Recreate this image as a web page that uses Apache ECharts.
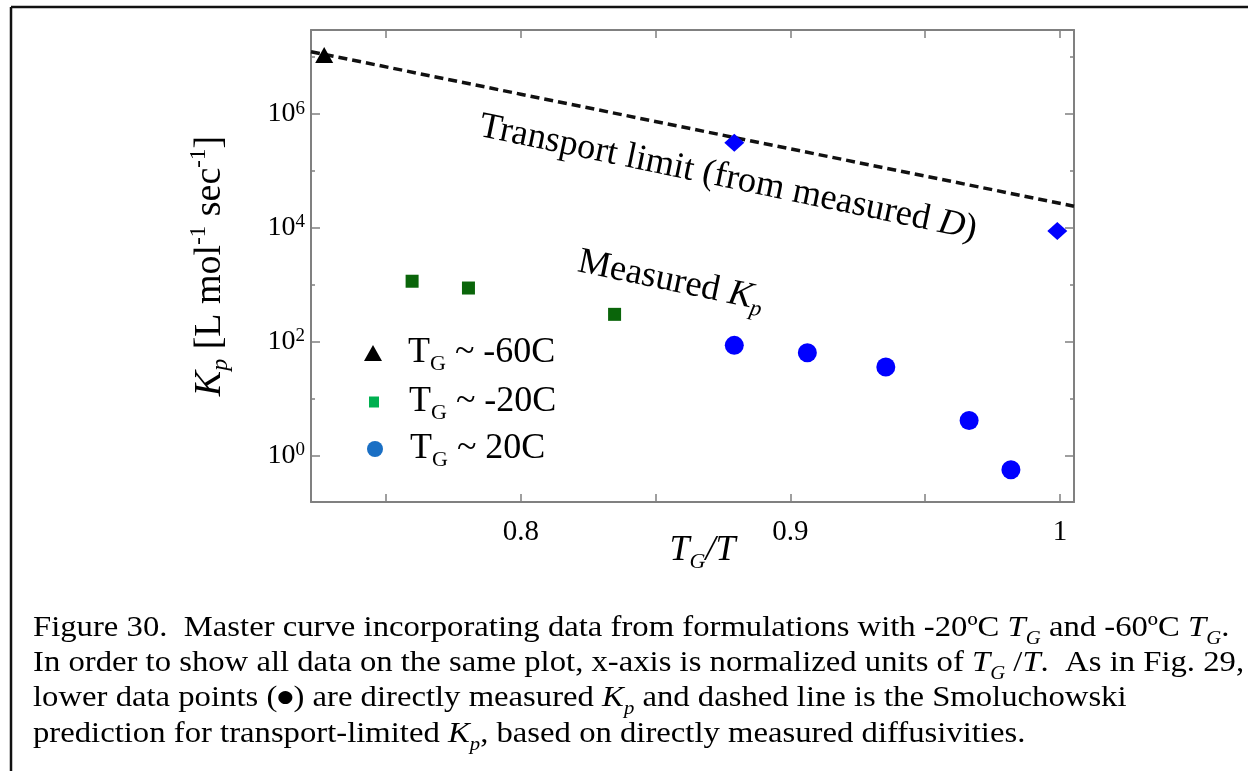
<!DOCTYPE html>
<html>
<head>
<meta charset="utf-8">
<script src="https://cdn.jsdelivr.net/npm/echarts@6/dist/echarts.min.js"></script>
<style>
  html, body { margin: 0; padding: 0; background: #fff; }
  #chart { width: 1248px; height: 771px; }
</style>
</head>
<body>
<div id="chart"></div>
<script>
// data (x = TG/T, y = Kp in L mol^-1 sec^-1)
const xMinus60 = [0.7271]
const kpMinus60 = [1.09e7]

const xMinus20 = [0.7597, 0.7806, 0.8348]
const kpMinus20 = [1157, 879, 303]

const xPlus20 = [0.8792, 0.9063, 0.9354, 0.9663, 0.9818]
const kpPlus20 = [86.4, 64.3, 35.9, 4.14, 0.562]

const xLimitPts = [0.8792, 0.999]
const kpLimitPts = [3.13e5, 8.86e3]

const xTransport = [0.7222, 0.8, 0.9, 1.0052]
const kpTransport = [1.25e7, 2.24e6, 2.45e5, 2.41e4]

const xTicks = [0.75, 0.8, 0.85, 0.9, 0.95, 1.0]
const xTickLabels = [0.8, 0.9, 1.0]
const yMajorTicks = [1, 1e2, 1e4, 1e6]
const yMinorTicks = [10, 1e3, 1e5, 1e7]

const serif = "'Liberation Serif', 'Times New Roman', serif"
const frameGray = '#808080'

const pairs = (xs, ys) => xs.map((x, i) => [x, ys[i]])

const chart = echarts.init(document.getElementById('chart'))

// one log y axis; several are stacked to get long/short ticks on both sides
function yAxisDef(position, ticks, len, withLine, withLabels) {
  return {
    type: 'log',
    logBase: 10,
    position: position,
    min: Math.pow(10, -0.816),
    max: Math.pow(10, 7.478),
    axisLine: { show: withLine, lineStyle: { color: frameGray, width: 2 } },
    axisTick: { show: true, inside: true, length: len, customValues: ticks,
      lineStyle: { color: frameGray, width: 1.5 } },
    axisLabel: withLabels ? {
      show: true, customValues: ticks, margin: 6,
      formatter: (v) => '{b|10}{s|' + Math.round(Math.log10(v)) + '}',
      rich: {
        b: { fontFamily: serif, fontSize: 28, color: '#000', lineHeight: 30 },
        s: { fontFamily: serif, fontSize: 19, color: '#000', lineHeight: 18, verticalAlign: 'top' }
      }
    } : { show: false },
    splitLine: { show: false }
  }
}

function xAxisDef(position, withLabels) {
  return {
    type: 'value',
    position: position,
    min: 0.7222,
    max: 1.0052,
    axisLine: { show: true, onZero: false, lineStyle: { color: frameGray, width: 2 } },
    axisTick: { show: true, inside: true, length: 8, customValues: xTicks,
      lineStyle: { color: frameGray, width: 1.5 } },
    axisLabel: withLabels ? {
      show: true, customValues: xTickLabels, margin: 16,
      fontFamily: serif, fontSize: 29, color: '#000',
      formatter: (v) => (Math.abs(v - 1) < 1e-9 ? '1' : String(v))
    } : { show: false },
    splitLine: { show: false }
  }
}

const bottomX = xAxisDef('bottom', true)
bottomX.name = '{f|T}{sub|G}{i|/T}'
bottomX.nameLocation = 'middle'
bottomX.nameGap = 27
bottomX.nameMoveOverlap = false
bottomX.nameTextStyle = {
  rich: {
    f: { fontFamily: serif, fontStyle: 'italic', fontSize: 36, color: '#000', lineHeight: 44, padding: [0, 0, 0, 20] },
    i: { fontFamily: serif, fontStyle: 'italic', fontSize: 36, color: '#000', lineHeight: 44 },
    sub: { fontFamily: serif, fontStyle: 'italic', fontSize: 22, color: '#000', lineHeight: 24, verticalAlign: 'bottom' }
  }
}

const leftY = yAxisDef('left', yMajorTicks, 9, true, true)
leftY.name = '{i|K}{sub|p}{r| [L mol}{sup|-1}{r| sec}{sup|-1}{r|]}'
leftY.nameLocation = 'middle'
leftY.nameRotate = 90
leftY.nameGap = 78
leftY.nameTextStyle = {
  rich: {
    i: { fontFamily: serif, fontStyle: 'italic', fontSize: 38, color: '#000', lineHeight: 46 },
    sub: { fontFamily: serif, fontStyle: 'italic', fontSize: 24, color: '#000', lineHeight: 26, verticalAlign: 'bottom' },
    r: { fontFamily: serif, fontSize: 38, color: '#000', lineHeight: 46 },
    sup: { fontFamily: serif, fontSize: 23, color: '#000', lineHeight: 26, verticalAlign: 'top' }
  }
}

// legend rows: "T_G ~ ..." with subscript G; pad moves text off the small icon
function legendRow(name, icon, color, w, h, left, top, pad) {
  return {
    orient: 'vertical', left: left, top: top, padding: 0,
    itemWidth: w, itemHeight: h,
    selectedMode: false,
    data: [{ name: name, icon: icon, itemStyle: { color: color, opacity: 1 } }],
    formatter: (n) => '{f|T}{g|G}{a| ' + n.replace('TG ', '') + '}',
    textStyle: {
      rich: {
        f: { fontFamily: serif, fontSize: 36, color: '#000', lineHeight: 44, padding: [0, 0, 0, pad] },
        a: { fontFamily: serif, fontSize: 36, color: '#000', lineHeight: 44 },
        g: { fontFamily: serif, fontSize: 22, color: '#000', lineHeight: 22, verticalAlign: 'bottom' }
      }
    }
  }
}

const annoRich = {
  r: { fontFamily: serif, fontSize: 36.5, color: '#000', lineHeight: 44 },
  i: { fontFamily: serif, fontStyle: 'italic', fontSize: 36.5, color: '#000', lineHeight: 44 },
  sub: { fontFamily: serif, fontStyle: 'italic', fontSize: 23, color: '#000', lineHeight: 24, verticalAlign: 'bottom' }
}

const capRich = {
  r: { fontFamily: serif, fontSize: 30, color: '#000', lineHeight: 40 },
  i: { fontFamily: serif, fontStyle: 'italic', fontSize: 30, color: '#000', lineHeight: 40 },
  sub: { fontFamily: serif, fontStyle: 'italic', fontSize: 19, color: '#000', lineHeight: 24, verticalAlign: 'bottom' },
  dot: { fontFamily: 'DejaVu Sans', fontSize: 17, color: '#1a6fc4', lineHeight: 40 }
}
const captionLines = [
  '{r|Figure 30.  Master curve incorporating data from formulations with -20ºC }{i|T}{sub|G}{r| and -60ºC }{i|T}{sub|G}{r|.}',
  '{r|In order to show all data on the same plot, x-axis is normalized units of }{i|T}{sub|G}{r| /}{i|T}{r|.  As in Fig. 29,}',
  '{r|lower data points (}{dot|●}{r|) are directly measured }{i|K}{sub|p}{r| and dashed line is the Smoluchowski}',
  '{r|prediction for transport-limited }{i|K}{sub|p}{r|, based on directly measured diffusivities.}'
]
const captionY = [628, 663, 698, 734]

chart.setOption({
  animation: false,
  backgroundColor: '#fff',
  textStyle: { fontFamily: serif },
  grid: { left: 311, top: 30, right: 174, bottom: 269, show: false },
  xAxis: [bottomX, xAxisDef('top', false)],
  yAxis: [
    leftY,
    yAxisDef('left', yMinorTicks, 4, false, false),
    yAxisDef('right', yMajorTicks, 9, true, false),
    yAxisDef('right', yMinorTicks, 4, false, false)
  ],
  legend: [
    legendRow('TG ~ -60C', 'triangle', '#000', 18, 16, 364, 335, 21),
    legendRow('TG ~ -20C', 'rect', '#00b050', 10, 11, 369, 384, 25),
    legendRow('TG ~ 20C', 'circle', '#1a6fc4', 16, 16, 367, 431, 22)
  ],
  series: [
    {
      name: 'Transport limit',
      type: 'line',
      data: pairs(xTransport, kpTransport),
      showSymbol: false,
      symbol: 'none',
      lineStyle: { color: '#111', width: 3.5, type: [9, 5] },
      z: 2
    },
    {
      name: 'TG ~ -20C',
      type: 'scatter',
      symbol: 'rect',
      symbolSize: 13,
      itemStyle: { color: '#0a650a', opacity: 1 },
      data: pairs(xMinus20, kpMinus20),
      z: 3
    },
    {
      name: 'TG ~ 20C',
      type: 'scatter',
      symbol: 'circle',
      symbolSize: 19,
      itemStyle: { color: '#0000ff', opacity: 1 },
      data: pairs(xPlus20, kpPlus20),
      z: 3
    },
    {
      name: 'Transport limit points',
      type: 'scatter',
      symbol: 'diamond',
      symbolSize: [20, 18],
      itemStyle: { color: '#0000ff', opacity: 1 },
      data: pairs(xLimitPts, kpLimitPts),
      z: 4
    },
    {
      name: 'TG ~ -60C',
      type: 'scatter',
      symbol: 'triangle',
      symbolSize: [18, 16],
      itemStyle: { color: '#000', opacity: 1 },
      data: pairs(xMinus60, kpMinus60),
      z: 4
    }
  ],
  graphic: [
    // figure frame (top and left edges)
    { type: 'line', shape: { x1: 11, y1: 7, x2: 1248, y2: 7 }, style: { stroke: '#111', lineWidth: 2.5 } },
    { type: 'line', shape: { x1: 11, y1: 7, x2: 11, y2: 771 }, style: { stroke: '#111', lineWidth: 2.5 } },
    {
      type: 'text', x: 728, y: 178, rotation: -0.206,
      style: { text: '{r|Transport limit (from measured }{i|D}{r|)}', rich: annoRich, align: 'center', verticalAlign: 'middle' }
    },
    {
      type: 'text', x: 671, y: 281, rotation: -0.206,
      style: { text: '{r|Measured }{i|K}{sub|p}', rich: annoRich, align: 'center', verticalAlign: 'middle' }
    },
    ...captionLines.map((t, i) => ({
      type: 'text', x: 33, y: captionY[i], scaleX: 1.09,
      style: { text: t, rich: capRich, align: 'left', verticalAlign: 'middle' }
    }))
  ]
})

window.addEventListener('resize', () => chart.resize())
</script>
</body>
</html>
